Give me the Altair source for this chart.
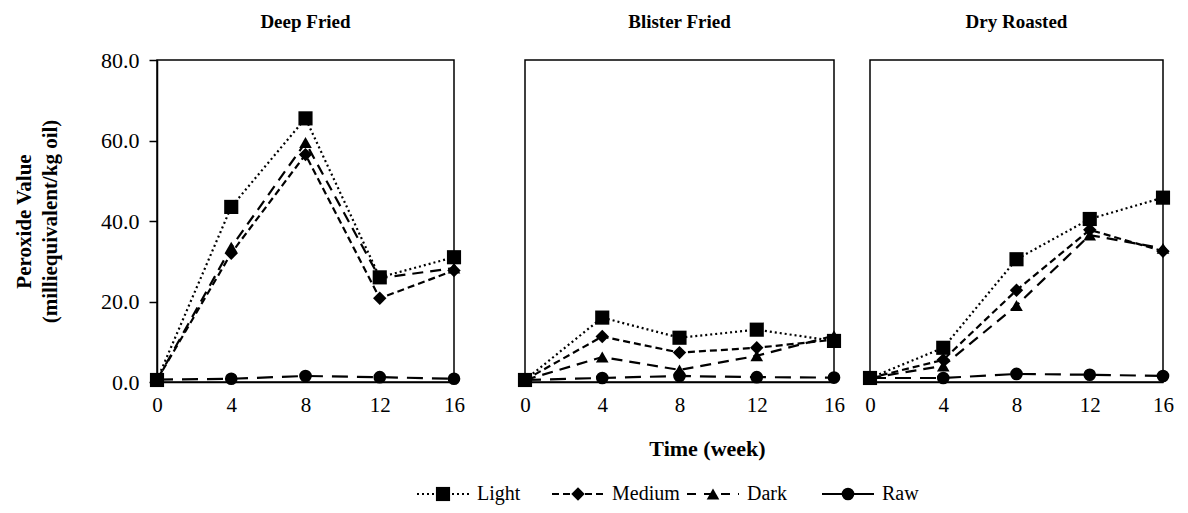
import altair as alt
import pandas as pd

# Storage weeks shared by every panel
weeks = [0, 4, 8, 12, 16]

# Peroxide value (meq/kg oil) per roast level, one list per processing method
deep_light = [0.5, 43.5, 65.5, 26.0, 31.0]
deep_medium = [0.5, 32.0, 56.5, 20.8, 27.7]
deep_dark = [0.5, 33.5, 59.5, 25.8, 28.3]
deep_raw = [0.6, 0.8, 1.5, 1.2, 0.8]

blister_light = [0.5, 16.0, 11.0, 13.0, 10.2]
blister_medium = [0.5, 11.3, 7.3, 8.5, 10.5]
blister_dark = [0.5, 6.2, 3.0, 6.5, 11.5]
blister_raw = [0.5, 1.0, 1.5, 1.2, 1.1]

dry_light = [1.0, 8.5, 30.5, 40.5, 45.8]
dry_medium = [1.0, 5.5, 22.8, 37.8, 32.5]
dry_dark = [1.0, 4.0, 19.0, 36.5, 33.2]
dry_raw = [1.0, 1.0, 2.0, 1.8, 1.5]

series_names = ["Light", "Medium", "Dark", "Raw"]
panel_titles = ["Deep Fried", "Blister Fried", "Dry Roasted"]
y_ticks = [0, 20, 40, 60, 80]

panels = {
    "Deep Fried": {"Light": deep_light, "Medium": deep_medium, "Dark": deep_dark, "Raw": deep_raw},
    "Blister Fried": {"Light": blister_light, "Medium": blister_medium, "Dark": blister_dark, "Raw": blister_raw},
    "Dry Roasted": {"Light": dry_light, "Medium": dry_medium, "Dark": dry_dark, "Raw": dry_raw},
}

rows = []
for method, groups in panels.items():
    for name, values in groups.items():
        for w, v in zip(weeks, values):
            rows.append({"method": method, "series": name, "week": w, "pv": v})
df = pd.DataFrame(rows)

FONT = "Liberation Serif"
dash_of = {"Light": [2, 3], "Medium": [7, 4], "Dark": [11, 7], "Raw": [16, 9]}
legend_dash_of = {"Light": [2, 3], "Medium": [7, 4], "Dark": [9, 8], "Raw": [1, 0]}
shape_of = {"Light": "square", "Medium": "diamond", "Dark": "triangle-up", "Raw": "circle"}
size_of = {"Light": 200, "Medium": 180, "Dark": 160, "Raw": 160}

panel_w = {"Deep Fried": 297, "Blister Fried": 309, "Dry Roasted": 293}
PANEL_H = 322


def make_panel(method, first=False, middle=False):
    sub = df[df["method"] == method]
    x_axis = alt.Axis(
        values=weeks, tickSize=0, labelPadding=12, labelFontSize=21, labelFont=FONT,
        labelColor="black", domainColor="black", domainWidth=1.5, grid=False,
        labelFlush=False,
        title="Time (week)" if middle else None,
        titleFont=FONT, titleFontSize=22, titleFontWeight="bold", titleColor="black",
        titleX=182, titleY=56, titleAlign="center",
    )
    if first:
        y_axis = alt.Axis(
            values=y_ticks, format=".1f", tickSize=8, tickColor="black", tickWidth=1.5,
            labelPadding=10, labelFontSize=22, labelFont=FONT, labelColor="black",
            domainColor="black", domainWidth=1.5, grid=False,
            title=["Peroxide Value", "(milliequivalent/kg oil)"],
            titleFont=FONT, titleFontSize=21, titleFontWeight="bold", titleColor="black",
            titlePadding=40, titleLineHeight=26,
        )
    else:
        y_axis = None
    x = alt.X("week:Q", scale=alt.Scale(domain=[0, 16], nice=False), axis=x_axis)
    y = alt.Y("pv:Q", scale=alt.Scale(domain=[0, 80], nice=False), axis=y_axis)
    layers = []
    for name in ["Raw", "Dark", "Medium", "Light"]:
        d = sub[sub["series"] == name]
        base = alt.Chart(d)
        layers.append(base.mark_line(color="black", strokeWidth=2.2, strokeDash=dash_of[name]).encode(x=x, y=y))
        layers.append(base.mark_point(shape=shape_of[name], filled=True, color="black", opacity=1,
                                      size=size_of[name]).encode(x=x, y=y))
    # the first panel's top tick label already sits above the frame, so its title needs less offset
    return alt.layer(*layers).properties(
        width=panel_w[method], height=PANEL_H,
        title=alt.TitleParams(method, font=FONT, fontSize=19, fontWeight="bold", color="black",
                              anchor="middle", offset=17 if first else 28, frame="group"),
    )


p1 = make_panel("Deep Fried", first=True)
p2 = make_panel("Blister Fried", middle=True)
p3 = make_panel("Dry Roasted")

plots = alt.hconcat(p1, alt.hconcat(p2, p3, spacing=16), spacing=51)

# Legend row: dashed segment, marker and label for each roast level
leg_df = pd.DataFrame({"series": series_names})
lx = alt.X("series:N", sort=series_names, axis=None,
           scale=alt.Scale(type="point", domain=series_names, range=[260, 260 + 3 * 135], padding=0))
leg_layers = []
for name in series_names:
    b = alt.Chart(leg_df[leg_df["series"] == name])
    leg_layers.append(b.mark_rule(color="black", strokeWidth=2.2, strokeDash=legend_dash_of[name], xOffset=0,
                                  x2Offset=52).encode(x=lx, x2=alt.X2("series"), y=alt.value(10)))
    leg_layers.append(b.mark_point(shape=shape_of[name], filled=True, color="black", opacity=1,
                                   size=size_of[name], xOffset=26).encode(x=lx, y=alt.value(10)))
    leg_layers.append(b.mark_text(align="left", baseline="middle", dx=60, font=FONT, fontSize=20,
                                  color="black").encode(x=lx, y=alt.value(10), text="series:N"))
legend = alt.layer(*leg_layers).properties(
    width=800, height=20, view=alt.ViewBackground(stroke=None)
)

chart = alt.vconcat(plots, legend, spacing=24).properties(
    padding={"left": 12, "top": 12, "right": 5, "bottom": 5}, background="white"
).configure_view(stroke="black", strokeWidth=1.5)

chart.save("out.html", embed_options={"renderer": "svg", "actions": False})
